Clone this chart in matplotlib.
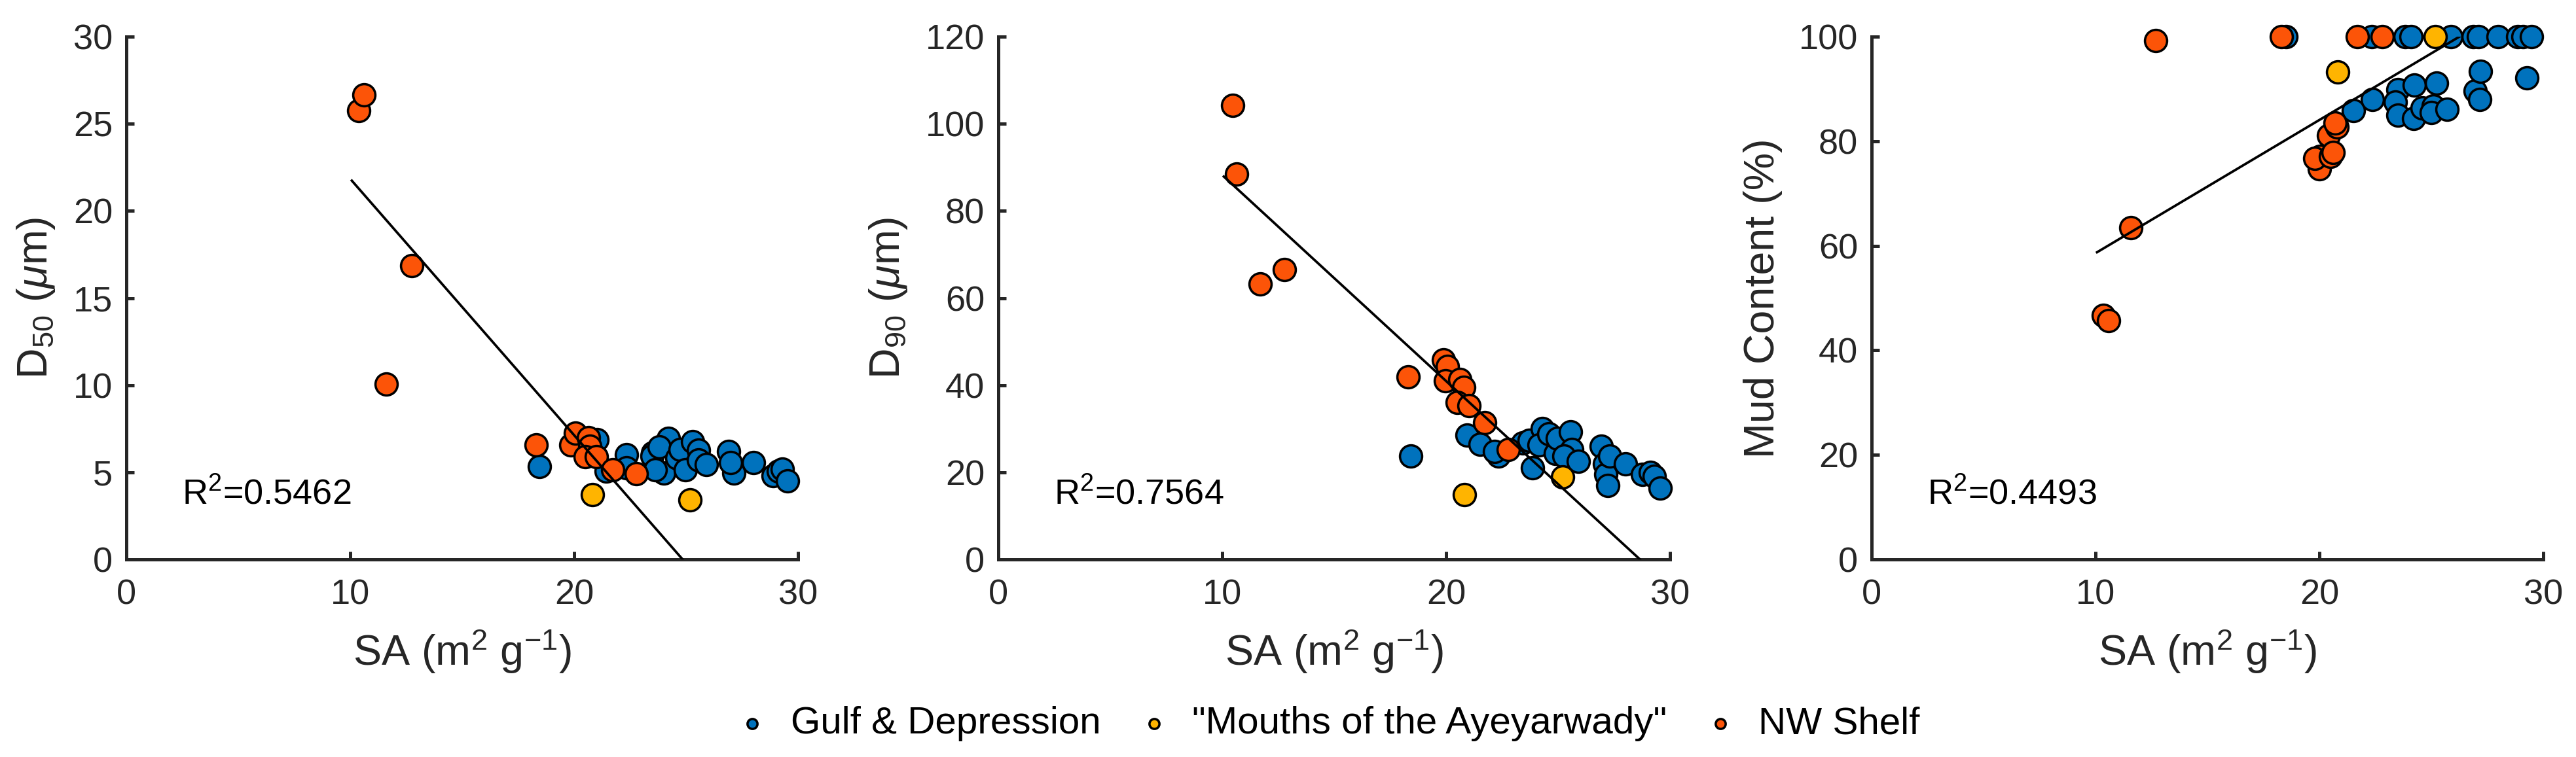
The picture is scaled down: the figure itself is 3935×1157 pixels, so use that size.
import numpy as np
import matplotlib
matplotlib.use("Agg")
import matplotlib.pyplot as plt

# ---- data ----
GROUPS = ["Gulf & Depression", '"Mouths of the Ayeyarwady"', "NW Shelf"]
COLORS = ["#0072BD", "#FFB400", "#FC5408"]

# panel 1: SA vs D50
d50_gulf_sa = [18.45, 21.03, 21.42, 22.35, 22.35, 23.52, 23.47, 24.20, 23.81, 24.01, 23.62,
               24.59, 24.74, 24.98, 25.28, 25.57, 25.57, 25.91, 26.89, 27.13, 27.00, 28.00,
               28.89, 29.13, 29.30, 29.52]
d50_gulf = [5.32, 6.88, 5.07, 6.01, 5.26, 6.13, 5.95, 6.95, 6.45, 4.95, 5.13,
            5.82, 6.32, 5.13, 6.76, 6.26, 5.70, 5.45, 6.20, 4.95, 5.57, 5.57,
            4.82, 5.07, 5.20, 4.51]
d50_mouth_sa = [20.81, 25.18]
d50_mouth = [3.72, 3.42]
d50_nw_sa = [10.39, 10.61, 11.62, 12.76, 18.30, 19.86, 20.06, 20.64, 20.69, 20.49,
             20.98, 21.72, 22.79]
d50_nw = [25.76, 26.67, 10.06, 16.85, 6.57, 6.57, 7.26, 7.00, 6.51, 5.88,
          5.89, 5.16, 4.92]

# panel 2: SA vs D90
d90_gulf_sa = [18.43, 20.94, 21.52, 22.35, 22.15, 23.42, 23.71, 23.86, 24.30, 24.15,
               24.59, 24.88, 24.98, 25.56, 25.61, 25.27, 25.90, 26.93, 27.07, 27.12,
               27.22, 27.30, 28.00, 28.78, 29.12, 29.30, 29.56]
d90_gulf = [23.8, 28.5, 26.4, 23.8, 24.8, 26.8, 27.3, 21.0, 30.0, 26.3,
            28.8, 24.3, 27.8, 29.3, 25.3, 23.8, 22.5, 26.0, 22.0, 19.5,
            17.0, 23.8, 22.0, 19.5, 20.0, 19.1, 16.3]
d90_mouth_sa = [20.81, 25.20]
d90_mouth = [14.9, 18.9]
d90_nw_sa = [10.47, 10.63, 11.69, 12.78, 18.31, 19.87, 20.06, 19.96, 20.60, 20.79,
             20.50, 21.03, 21.72, 22.79]
d90_nw = [104.3, 88.4, 63.3, 66.6, 41.9, 45.8, 44.3, 41.0, 41.3, 39.5,
          36.0, 35.3, 31.4, 25.3]

# panel 3: SA vs mud content
mud_gulf_sa = [18.52, 22.33, 23.84, 24.10, 25.87, 26.88, 27.10, 27.98, 28.86, 29.10,
               29.48, 21.52, 22.37, 23.50, 24.24, 25.24, 23.40, 23.50, 24.20, 24.60,
               25.10, 25.00, 25.70, 26.97, 27.17, 27.20, 29.27]
mud_gulf = [100, 100, 100, 100, 100, 100, 100, 100, 100, 100,
            100, 85.9, 88.0, 89.9, 90.7, 91.1, 87.5, 85.0, 84.3, 86.3,
            86.7, 85.5, 86.1, 89.6, 88.0, 93.4, 92.1]
mud_mouth_sa = [20.81, 25.17]
mud_mouth = [93.2, 100]
mud_nw_sa = [10.34, 10.58, 11.58, 12.70, 18.31, 21.70, 22.80, 20.03, 20.00, 19.80,
             20.40, 20.50, 20.60, 20.80, 20.70]
mud_nw = [46.7, 45.7, 63.5, 99.3, 100, 100, 100, 77.1, 74.7, 76.7,
          81.1, 77.1, 77.9, 82.7, 83.5]

# linear fits (slope, intercept) and R^2 as printed on the figure
FITS = [(-1.471, 36.55), (-4.728, 135.5), (2.548, 33.1)]
FIT_SA = [10.07, 29.5]
R2 = ["0.5462", "0.7564", "0.4493"]

YLABELS = [r"D$_{50}$ ($\mu$m)", r"D$_{90}$ ($\mu$m)", "Mud Content (%)"]
YTICKS = [np.arange(0, 31, 5), np.arange(0, 121, 20), np.arange(0, 101, 20)]
XTICKS = [0, 10, 20, 30]

PANELS = [
    [(d50_gulf_sa, d50_gulf), (d50_mouth_sa, d50_mouth), (d50_nw_sa, d50_nw)],
    [(d90_gulf_sa, d90_gulf), (d90_mouth_sa, d90_mouth), (d90_nw_sa, d90_nw)],
    [(mud_gulf_sa, mud_gulf), (mud_mouth_sa, mud_mouth), (mud_nw_sa, mud_nw)],
]

plt.rcParams["font.family"] = ["Liberation Sans", "DejaVu Sans"]
plt.rcParams["mathtext.fontset"] = "custom"
plt.rcParams["mathtext.rm"] = "Liberation Sans"
plt.rcParams["mathtext.it"] = "Liberation Sans:italic"
plt.rcParams["mathtext.bf"] = "Liberation Sans:bold"

INK = "#262626"

fig = plt.figure(figsize=(3935 / 300, 1157 / 300), dpi=300)
lefts = [193 / 3935, 1525 / 3935, 2859 / 3935]
width = 1026 / 3935
bottom = 1 - 855 / 1157
height = (855 - 56) / 1157

handles = []
for i, series in enumerate(PANELS):
    ax = fig.add_axes([lefts[i], bottom, width, height])
    for j, (sa, val) in enumerate(series):
        h = ax.scatter(sa, val, s=66, c=COLORS[j], edgecolors="black",
                       linewidths=0.85, zorder=3 + j, clip_on=False, label=GROUPS[j])
        if i == 0:
            handles.append(h)

    slope, icpt = FITS[i]
    fx = np.array(FIT_SA)
    ax.plot(fx, slope * fx + icpt, color="black", lw=0.9, zorder=6)

    ax.set_xlim(0, 30)
    ax.set_ylim(YTICKS[i][0], YTICKS[i][-1])
    ax.set_xticks(XTICKS)
    ax.set_yticks(YTICKS[i])
    for side in ["top", "right"]:
        ax.spines[side].set_visible(False)
    for side in ["left", "bottom"]:
        ax.spines[side].set_color(INK)
        ax.spines[side].set_linewidth(1.2)
    ax.tick_params(direction="in", length=2.8, width=1.2, color=INK,
                   labelsize=13, labelcolor=INK)
    ax.tick_params(axis="x", pad=7)
    ax.tick_params(axis="y", pad=5)

    ax.set_xlabel(r"SA (m$^2$ g$^{-1}$)", fontsize=15.5, color=INK, labelpad=6)
    ax.set_ylabel(YLABELS[i], fontsize=15.5, color=INK, labelpad=6)

    ax.text(2.5, YTICKS[i][-1] * 0.125, "R$^2$=" + R2[i], fontsize=13,
            color="black", va="center", ha="left")

fig.legend(handles=handles, loc="center", bbox_to_anchor=(0.515, 0.044),
           ncol=3, frameon=False, fontsize=14, markerscale=0.45,
           handlelength=1.0, handletextpad=0.5, columnspacing=0.9)

fig.savefig("out.png", dpi=300)
